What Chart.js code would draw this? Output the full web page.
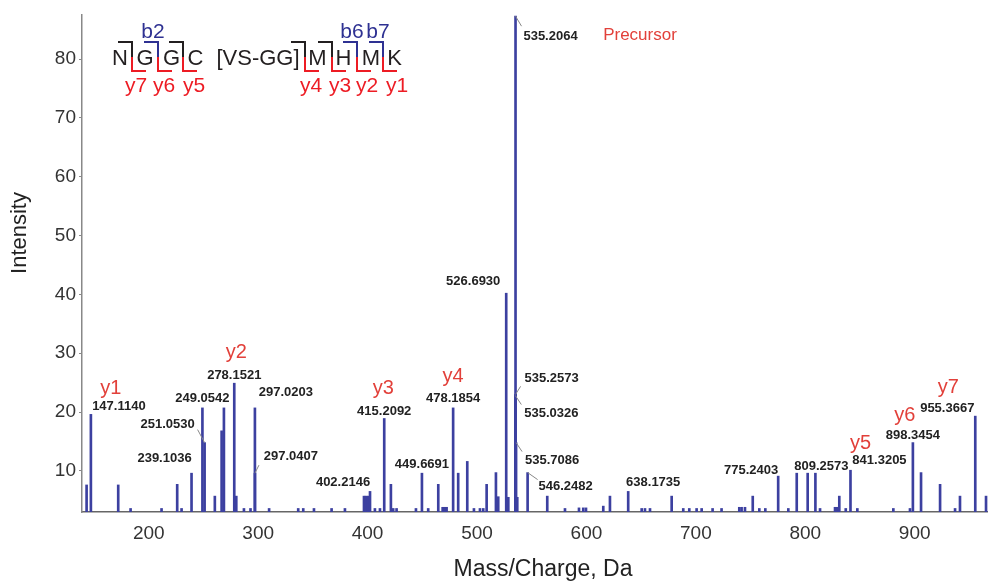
<!DOCTYPE html>
<html>
<head>
<meta charset="utf-8">
<script src="https://cdn.jsdelivr.net/npm/chart.js@4.4.1/dist/chart.umd.min.js"></script>
<style>
  html, body { margin: 0; padding: 0; background: #fff; }
  #wrap { width: 988px; height: 585px; }
</style>
</head>
<body>
<div id="wrap"><canvas id="spectrum" width="988" height="585"></canvas></div>
<script>
// peaks: m/z and relative intensity
const peakMz = [
  143.2, 147.1140, 172.1, 183.4, 211.7, 226.0, 230.0, 239.1036, 249.0542, 251.0530,
  260.4, 266.6, 268.7, 278.1521, 280.0, 287.0, 293.0, 297.0203, 297.0407, 310.0,
  336.6, 341.2, 351.0, 367.1, 379.3, 396.7, 398.5, 400.6, 402.2146, 406.7,
  411.3, 415.2092, 421.3, 423.4, 426.5, 444.2, 449.6691, 455.4, 464.6, 468.6,
  470.7, 472.2, 478.1854, 482.8, 491.1, 497.2, 502.7, 505.7, 508.8, 517.3,
  519.4, 526.6930, 528.6, 535.0326, 535.2064, 535.2573, 535.7086, 536.8, 546.2482, 564.2,
  580.4, 593.2, 597.1, 599.6, 615.4, 621.5, 638.1735, 650.5, 653.5, 658.1,
  677.9, 688.5, 694.0, 700.7, 705.3, 715.3, 723.5, 739.7, 741.8, 744.9,
  752.0, 758.0, 763.5, 775.2403, 784.5, 792.2, 802.2, 809.2573, 813.5, 827.2,
  829.3, 831.1, 837.0, 841.3205, 847.6, 880.5, 895.7, 898.3454, 905.8, 923.2,
  936.9, 941.4, 955.3667, 965.2
];
const peakIntensity = [
  7.6, 19.6, 7.6, 3.6, 3.6, 7.7, 3.6, 9.6, 20.7, 14.8,
  5.7, 16.8, 20.7, 24.9, 5.7, 3.6, 3.6, 20.7, 9.6, 3.6,
  3.6, 3.6, 3.6, 3.6, 3.6, 5.7, 5.7, 5.7, 6.5, 3.6,
  3.6, 18.9, 7.7, 3.6, 3.6, 3.6, 9.6, 3.6, 7.7, 3.8,
  3.8, 3.8, 20.7, 9.6, 11.6, 3.6, 3.6, 3.6, 7.7, 9.7,
  5.6, 40.2, 5.5, 22.8, 87.3, 23.0, 14.8, 5.5, 9.7, 5.7,
  3.6, 3.7, 3.7, 3.7, 4.0, 5.7, 6.5, 3.6, 3.6, 3.6,
  5.7, 3.6, 3.6, 3.6, 3.6, 3.6, 3.6, 3.8, 3.8, 3.8,
  5.7, 3.6, 3.6, 9.1, 3.6, 9.6, 9.6, 9.6, 3.6, 3.8,
  3.8, 5.7, 3.6, 10.1, 3.6, 3.6, 3.6, 14.8, 9.7, 7.7,
  3.6, 5.7, 19.3, 5.7
];

// peaks that carry an m/z label
const labelMz = [
  147.1140, 239.1036, 249.0542, 251.0530, 278.1521, 297.0203, 297.0407, 402.2146,
  415.2092, 449.6691, 478.1854, 526.6930, 535.2064, 535.2573, 535.0326, 535.7086,
  546.2482, 638.1735, 775.2403, 809.2573, 841.3205, 898.3454, 955.3667
];
const labelIntensity = [
  19.6, 9.6, 20.7, 14.8, 24.9, 20.7, 9.6, 6.5,
  18.9, 9.6, 20.7, 40.2, 87.3, 23.0, 22.8, 14.8,
  9.7, 6.5, 9.1, 9.6, 10.1, 14.8, 19.3
];

// y ions marked on the spectrum
const ionNames = ['y1', 'y2', 'y3', 'y4', 'y5', 'y6', 'y7'];
const ionMz = [147.1140, 278.1521, 415.2092, 478.1854, 841.3205, 898.3454, 955.3667];
const ionIntensity = [19.6, 24.9, 18.9, 20.7, 10.1, 14.8, 19.3];

// peptide sequence with its fragment cuts
const residues = ['N', 'G', 'G', 'C', '[VS-GG]', 'M', 'H', 'M', 'K'];
const bIons = ['', 'b2', '', '', '', 'b6', 'b7'];
const yIons = ['y7', 'y6', 'y5', 'y4', 'y3', 'y2', 'y1'];

const xTicks = [200, 300, 400, 500, 600, 700, 800, 900];
const yTicks = [10, 20, 30, 40, 50, 60, 70, 80];
const xMin = 139, xMax = 967, yMin = 3, yMax = 87.5;

// label placement, pixel offsets from the peak top
const labelLayout = [
  {dx: 28, dy: -8}, {dx: -27, dy: -15}, {dx: 0, dy: -9}, {dx: -37, dy: -18, lead: [-7, -13]},
  {dx: 0, dy: -8}, {dx: 31, dy: -15}, {dx: 36, dy: -17, lead: [4, -8]}, {dx: -27, dy: -9},
  {dx: 0, dy: -7}, {dx: 0, dy: -9}, {dx: 0, dy: -9}, {dx: -33, dy: -12},
  {dx: 35, dy: 20, lead: [6, 10]}, {dx: 36, dy: -16, lead: [5, -8]}, {dx: 36, dy: 18, lead: [6, 9]}, {dx: 36, dy: 18, lead: [6, 9]},
  {dx: 38, dy: 14, lead: [10, 7]}, {dx: 25, dy: -9}, {dx: -27, dy: -6}, {dx: 6, dy: -7},
  {dx: 29, dy: -10}, {dx: 0, dy: -7}, {dx: -28, dy: -8}
];
const ionLayout = [[20, -26], [2, -31], [-1, -30], [0, -31], [10, -27], [-8, -27], [-27, -29]];

const FONT = '"Liberation Sans", Arial, sans-serif';

const annotate = {
  id: 'annotate',
  afterDatasetsDraw(chart) {
    const {ctx, scales: {x, y}} = chart;
    ctx.save();
    ctx.textAlign = 'center';
    ctx.textBaseline = 'middle';

    // m/z labels and leader lines
    ctx.font = 'bold 13px ' + FONT;
    labelMz.forEach((mz, i) => {
      const px = x.getPixelForValue(mz);
      const py = y.getPixelForValue(labelIntensity[i]);
      const l = labelLayout[i];
      if (l.lead) {
        ctx.strokeStyle = '#888';
        ctx.lineWidth = 1;
        ctx.beginPath();
        ctx.moveTo(px, py);
        ctx.lineTo(px + l.lead[0], py + l.lead[1]);
        ctx.stroke();
      }
      ctx.fillStyle = '#222';
      ctx.fillText(mz.toFixed(4), px + l.dx, py + l.dy);
    });

    // ion names
    ctx.font = '20px ' + FONT;
    ctx.fillStyle = '#e2403a';
    ionNames.forEach((n, i) => {
      const px = x.getPixelForValue(ionMz[i]);
      const py = y.getPixelForValue(ionIntensity[i]);
      ctx.fillText(n, px + ionLayout[i][0], py + ionLayout[i][1]);
    });

    ctx.font = '17px ' + FONT;
    ctx.fillText('Precursor', 640, 35);

    // peptide sequence
    const resX = [120, 145, 171.5, 195.5, 258, 317.5, 343.5, 371, 394.5];
    const cutX = [132, 158, 183, 305, 332, 357, 383];
    const yLabX = [136, 164, 194, 311, 340, 367, 397];
    ctx.textBaseline = 'alphabetic';
    ctx.font = '22px ' + FONT;
    ctx.fillStyle = '#231f20';
    residues.forEach((r, i) => ctx.fillText(r, resX[i], 65));
    ctx.lineWidth = 2;
    cutX.forEach((cx, i) => {
      ctx.strokeStyle = bIons[i] ? '#2e3192' : '#231f20';
      ctx.beginPath();
      ctx.moveTo(cx - 14, 42);
      ctx.lineTo(cx, 42);
      ctx.lineTo(cx, 57);
      ctx.stroke();
      ctx.strokeStyle = '#ed1c24';
      ctx.beginPath();
      ctx.moveTo(cx, 57);
      ctx.lineTo(cx, 71);
      ctx.lineTo(cx + 14, 71);
      ctx.stroke();
    });
    ctx.font = '21px ' + FONT;
    ctx.fillStyle = '#2e3192';
    bIons.forEach((b, i) => { if (b) ctx.fillText(b, cutX[i] - 5, 38); });
    ctx.fillStyle = '#ed1c24';
    yIons.forEach((n, i) => ctx.fillText(n, yLabX[i], 92));

    // axis titles
    ctx.fillStyle = '#222';
    ctx.textBaseline = 'middle';
    ctx.font = '23px ' + FONT;
    ctx.fillText('Mass/Charge, Da', 543, 570);
    ctx.translate(20, 233);
    ctx.rotate(-Math.PI / 2);
    ctx.font = '22px ' + FONT;
    ctx.fillText('Intensity', 0, 0);
    ctx.restore();
  }
};

new Chart(document.getElementById('spectrum'), {
  type: 'bar',
  data: {
    datasets: [{
      data: peakMz.map((mz, i) => ({x: mz, y: peakIntensity[i]})),
      backgroundColor: '#3c40a0',
      barThickness: 2,
      base: yMin
    }]
  },
  options: {
    responsive: false,
    animation: false,
    layout: { padding: { top: 15, right: 0, left: 0, bottom: 0 } },
    plugins: { legend: { display: false }, tooltip: { enabled: false } },
    scales: {
      x: {
        type: 'linear',
        offset: false,
        min: xMin,
        max: xMax,
        afterBuildTicks: s => { s.ticks = xTicks.map(v => ({value: v})); },
        afterFit: s => { s.height = 73; },
        grid: { display: true, drawOnChartArea: false, drawTicks: false },
        border: { display: true, color: '#666', width: 1.5 },
        ticks: { color: '#333', font: { size: 19, family: FONT }, padding: 10, maxRotation: 0 }
      },
      y: {
        min: yMin,
        max: yMax,
        afterBuildTicks: s => { s.ticks = yTicks.map(v => ({value: v})); },
        afterFit: s => { s.width = 82; },
        grid: { display: true, drawOnChartArea: false, drawTicks: true, tickLength: 3, color: '#888' },
        border: { display: true, color: '#888', width: 1.5 },
        ticks: { color: '#333', font: { size: 19, family: FONT }, padding: 3 }
      }
    }
  },
  plugins: [annotate]
});
</script>
</body>
</html>
